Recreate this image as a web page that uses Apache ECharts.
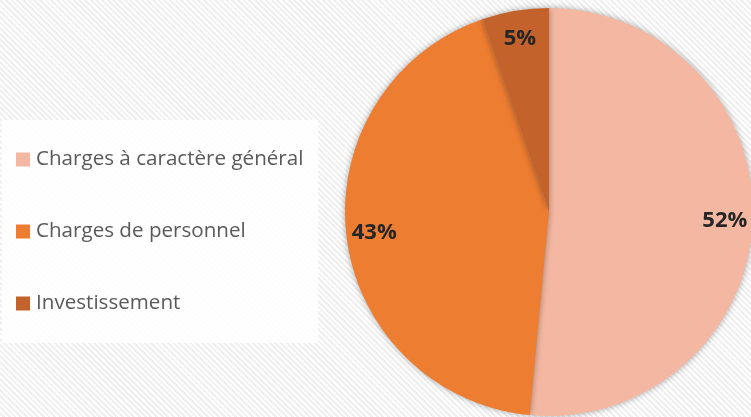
<!DOCTYPE html>
<html><head><meta charset="utf-8">
<script src="https://cdn.jsdelivr.net/npm/echarts@6/dist/echarts.min.js"></script>
<style>
html,body{margin:0;padding:0;}
body{width:751px;height:417px;background:repeating-linear-gradient(45deg,#ffffff 0px,#ffffff 2px,#efefef 2px,#efefef 4px);}
#c{width:751px;height:417px;}
</style></head><body>
<div id="c"></div>
<script>
const categories = ['Charges à caractère général', 'Charges de personnel', 'Investissement'];
const values = [51.5, 43.2, 5.3];
const labels = ['52%', '43%', '5%'];
const colors = ['#F4B8A2', '#ED7D31', '#C4622B'];

const chart = echarts.init(document.getElementById('c'));
const data = categories.map((n, i) => ({ name: n, value: values[i], itemStyle: { color: colors[i] } }));
chart.setOption({
  backgroundColor: 'transparent',
  animation: false,
  graphic: [{ type: 'rect', z: -10, shape: { x: 2, y: 120, width: 316, height: 223 }, style: { fill: 'rgba(255,255,255,0.85)' } }],
  legend: {
    orient: 'vertical', left: 11, top: 144, itemGap: 51, itemWidth: 14, itemHeight: 14, icon: 'rect',
    textStyle: { fontSize: 20.6, color: '#595959', fontFamily: 'Open Sans', padding: [0, 0, 0, 1] },
    data: categories
  },
  series: [
    {
      type: 'pie', center: [549, 212], radius: 204, startAngle: 90, clockwise: true,
      label: { show: false }, labelLine: { show: false },
      itemStyle: { shadowBlur: 6, shadowColor: 'rgba(0,0,0,0.35)' },
      data: data
    },
    {
      type: 'pie', center: [549, 212], radius: [142, 204], startAngle: 90, clockwise: true, silent: true,
      legendHoverLink: false,
      itemStyle: { color: 'rgba(0,0,0,0)' },
      label: { show: true, position: 'inside', fontSize: 22, fontWeight: 'bold', color: '#262626', fontFamily: 'Open Sans',
        formatter: p => labels[p.dataIndex] },
      labelLine: { show: false },
      data: categories.map((n, i) => ({ name: n + ' ', value: values[i] }))
    }
  ]
});
</script></body></html>
